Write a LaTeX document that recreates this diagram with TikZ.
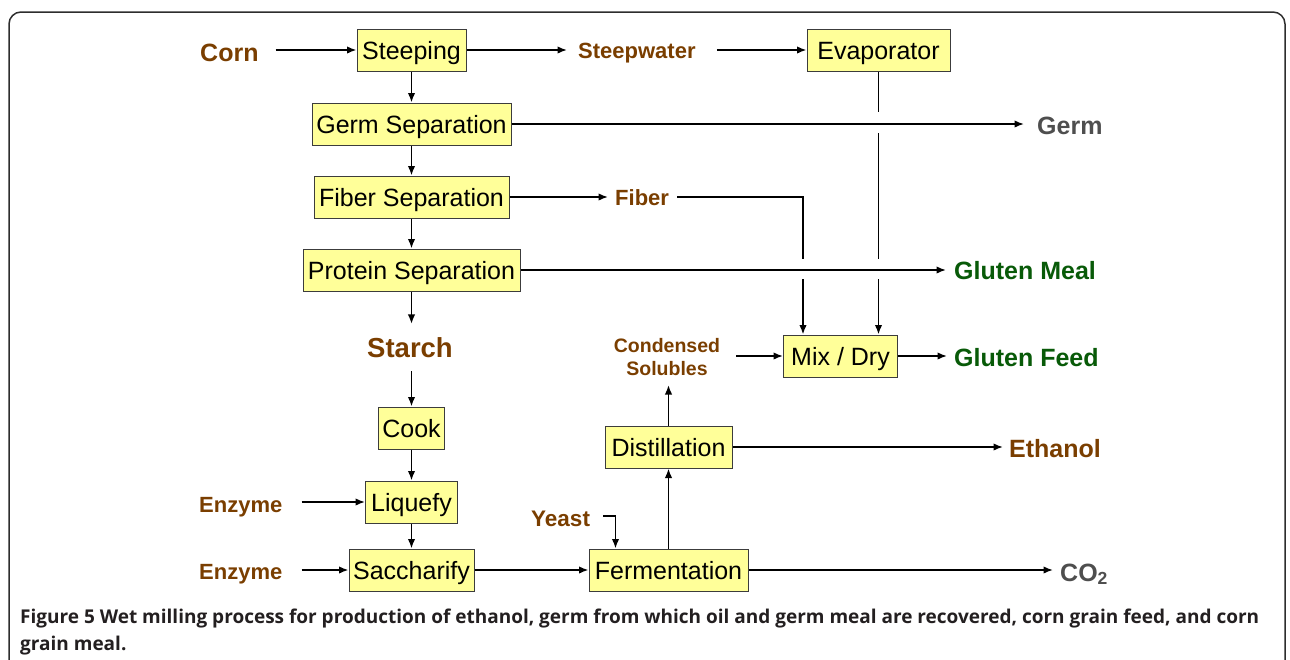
\documentclass[tikz,border=0pt]{standalone}
\usepackage{fontspec}
\setmainfont{Liberation Sans}
\newfontfamily\capfont{Open Sans}
\usetikzlibrary{arrows.meta,calc}
\definecolor{brn}{RGB}{122,62,0}
\definecolor{grn}{RGB}{8,90,8}
\definecolor{gry}{RGB}{78,78,78}
\definecolor{boxfill}{RGB}{255,255,153}
\definecolor{boxline}{RGB}{60,60,60}
\definecolor{framec}{RGB}{45,45,45}
\definecolor{captext}{RGB}{35,31,32}
\begin{document}
\begin{tikzpicture}[x=1pt,y=-1pt,
  proc/.style={draw=boxline, line width=1pt, fill=boxfill, minimum height=42pt,
    inner sep=0pt, text height=18pt, text depth=0pt, font=\fontsize{25}{30}\selectfont},
  lbl/.style={text=brn, inner sep=0pt, text depth=0pt, anchor=west},
  fsz/.style={font=\bfseries\fontsize{#1}{#1}\selectfont, text height={0.72*#1}},
  flow/.style={line width=1.7pt, -{Latex[length=9.5pt,width=7.5pt]}},
  plain/.style={line width=1.7pt}]
\useasboundingbox (0,0) rectangle (1290,659);
% frame
\draw[framec, line width=1.5pt, rounded corners=12pt] (9,662) -- (9,12) -- (1285,12) -- (1285,662);
% process boxes
\node[proc, minimum width=109pt] (steep) at (411.5,50) {Steeping};
\node[proc, minimum width=143pt] (evap) at (878.5,50) {Evaporator};
\node[proc, minimum width=199pt] (germsep) at (411.5,124) {Germ Separation};
\node[proc, minimum width=195pt] (fibsep) at (411.5,197) {Fiber Separation};
\node[proc, minimum width=217pt] (protsep) at (411.5,270) {Protein Separation};
\node[proc, minimum width=66pt] (cook) at (411.5,428) {Cook};
\node[proc, minimum width=92pt] (liq) at (411.5,502) {Liquefy};
\node[proc, minimum width=125pt] (sacch) at (411.5,570) {Saccharify};
\node[proc, minimum width=159pt] (ferm) at (668.5,570) {Fermentation};
\node[proc, minimum width=127pt] (dist) at (668.5,447) {Distillation};
\node[proc, minimum width=114pt] (mix) at (840.5,356) {Mix / Dry};
% labels
\node[lbl, fsz=25] (corn) at (200,52) {Corn};
\node[lbl, fsz=22] (steepw) at (578,51) {Steepwater};
\node[lbl, fsz=25, text=gry] (germ) at (1037,125) {Germ};
\node[lbl, fsz=22] (fiber) at (615,198) {Fiber};
\node[lbl, fsz=25, text=grn] (gmeal) at (954,270) {Gluten Meal};
\node[lbl, fsz=27.5, anchor=center] (starch) at (410,348) {Starch};
\node[text=brn, inner sep=0pt, align=center, font=\bfseries\fontsize{19.5}{23}\selectfont] (cond) at (667,357.5) {Condensed\\Solubles};
\node[lbl, fsz=25, text=grn] (gfeed) at (954,357) {Gluten Feed};
\node[lbl, fsz=25] (eth) at (1009,448) {Ethanol};
\node[lbl, fsz=22] (enz1) at (199,505) {Enzyme};
\node[lbl, fsz=22.5] (yeast) at (531,518) {Yeast};
\node[lbl, fsz=22] (enz2) at (199,572) {Enzyme};
\node[lbl, fsz=25, text=gry] (co2) at (1060,572) {CO\textsubscript{2}};
% helper coordinates
\coordinate (ystart) at (603,516);
\coordinate (ybend) at (615.5,516);
\coordinate (fbend) at (803,197);
% connectors: main column
\draw[flow, shorten <=17pt] (corn.east |- steep.west) -- (steep.west);
\draw[flow, shorten >=11pt] (steep.east) -- (steep.east -| steepw.west);
\draw[flow, shorten <=21pt] (steepw.east |- evap.west) -- (evap.west);
\draw[flow] (steep.south) -- (germsep.north);
\draw[flow] (germsep.south) -- (fibsep.north);
\draw[flow] (fibsep.south) -- (protsep.north);
\draw[flow, shorten >=14pt] (protsep.south) -- (protsep.south |- starch.north);
\draw[flow, shorten <=13pt] (cook.north |- starch.south) -- (cook.north);
\draw[flow] (cook.south) -- (liq.north);
\draw[flow] (liq.south) -- (sacch.north);
% side outputs
\draw[flow, shorten >=13pt] (germsep.east) -- (germsep.east -| germ.west);
\draw[flow, shorten >=7pt] (fibsep.east) -- (fibsep.east -| fiber.west);
\draw[flow, shorten >=8pt] (protsep.east) -- (protsep.east -| gmeal.west);
% fiber to mix
\draw[plain, shorten <=8pt] (fiber.east |- fbend) -- (fbend) -- ($(fbend |- protsep.east)+(0,-11)$);
\draw[flow] ($(fbend |- protsep.east)+(0,9)$) -- (fbend |- mix.north);
% evaporator to mix
\draw[plain] (evap.south) -- ($(evap.south |- germsep.east)+(0,-12)$);
\draw[plain] ($(evap.south |- germsep.east)+(0,9)$) -- ($(evap.south |- protsep.east)+(0,-11)$);
\draw[flow] ($(evap.south |- protsep.east)+(0,9)$) -- (evap.south |- mix.north);
% fermentation branch
\draw[flow, shorten <=19pt] (enz1.east |- liq.west) -- (liq.west);
\draw[flow, shorten <=19pt] (enz2.east |- sacch.west) -- (sacch.west);
\draw[flow] (sacch.east) -- (ferm.west);
\draw[flow] (ystart) -- (ybend) -- (ybend |- ferm.north);
\draw[flow] (ferm.north) -- (dist.south);
\draw[flow] (dist.north) -- (dist.north |- 0,385);
\draw[flow, shorten <=16pt] (cond.east |- mix.west) -- (mix.west);
\draw[flow, shorten >=7pt] (mix.east) -- (mix.east -| gfeed.west);
\draw[flow, shorten >=6pt] (dist.east) -- (dist.east -| eth.west);
\draw[flow, shorten >=7pt] (ferm.east) -- (ferm.east -| co2.west);
% caption
\node[anchor=base west, inner sep=0pt, align=left, text=captext, font=\capfont\bfseries\fontsize{19}{27}\selectfont] (cap) at (20,650)
 {Figure 5 Wet milling process for production of ethanol, germ from which oil and germ meal are recovered, corn grain feed, and corn\\grain meal.};
\end{tikzpicture}
\end{document}
